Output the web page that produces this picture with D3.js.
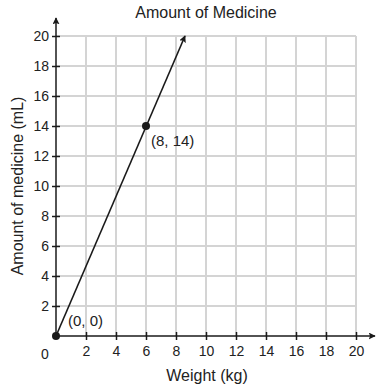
<!DOCTYPE html>
<html>
<head>
<meta charset="utf-8">
<script src="https://cdn.jsdelivr.net/npm/d3@7"></script>
<style>
  body { margin: 0; background: #fff; }
  svg { font-family: "Liberation Sans", Arial, sans-serif; }
</style>
</head>
<body>
<svg id="svg" width="385" height="385"></svg>
<script>
// chart values
var title = "Amount of Medicine";
var xLabel = "Weight (kg)";
var yLabel = "Amount of medicine (mL)";
var xTicks = [0, 2, 4, 6, 8, 10, 12, 14, 16, 18, 20];
var yTicks = [2, 4, 6, 8, 10, 12, 14, 16, 18, 20];
var linePoints = [[0, 0], [8.6, 20]];   // ray as drawn, ends in an arrow
var dots = [[0, 0], [6, 14]];
var dotLabels = ["(0, 0)", "(8, 14)"];

var margin = {top: 36, right: 29, bottom: 49, left: 56};
var width = 385 - margin.left - margin.right;
var height = 385 - margin.top - margin.bottom;

var svg = d3.select("#svg");

var x = d3.scaleLinear().domain([0, 20]).range([0, width]);
var y = d3.scaleLinear().domain([0, 20]).range([height, 0]);

svg.append("defs").append("marker")
    .attr("id", "arrow")
    .attr("viewBox", "0 0 10 10")
    .attr("refX", 9).attr("refY", 5)
    .attr("markerWidth", 7).attr("markerHeight", 7)
    .attr("markerUnits", "userSpaceOnUse")
    .attr("orient", "auto")
  .append("path")
    .attr("d", "M0,0L10,5L0,10L2,5Z")
    .attr("fill", "#1a1a1a");

var g = svg.append("g")
    .attr("transform", "translate(" + margin.left + "," + margin.top + ")");

// grid
g.append("g").selectAll("line")
    .data(xTicks.slice(1))
  .enter().append("line")
    .attr("x1", d => x(d)).attr("x2", d => x(d))
    .attr("y1", 0).attr("y2", height)
    .attr("stroke", "#d4d4d4").attr("stroke-width", 2);

g.append("g").selectAll("line")
    .data(yTicks)
  .enter().append("line")
    .attr("x1", 0).attr("x2", width)
    .attr("y1", d => y(d)).attr("y2", d => y(d))
    .attr("stroke", "#d4d4d4").attr("stroke-width", 2);

// axes
var xAxis = g.append("g")
    .attr("transform", "translate(0," + height + ")")
    .call(d3.axisBottom(x).tickValues(xTicks.slice(1)).tickSize(4).tickFormat(d3.format("d")));
xAxis.select(".domain").remove();
xAxis.selectAll(".tick line").attr("y1", -4).attr("stroke", "#1a1a1a").attr("stroke-width", 1.5);
xAxis.selectAll(".tick text").attr("y", 10).attr("font-size", 14).attr("fill", "#222");

var yAxis = g.append("g")
    .call(d3.axisLeft(y).tickValues(yTicks).tickSize(4).tickFormat(d3.format("d")));
yAxis.select(".domain").remove();
yAxis.selectAll(".tick line").attr("x1", 4).attr("stroke", "#1a1a1a").attr("stroke-width", 1.5);
yAxis.selectAll(".tick text").attr("x", -7).attr("font-size", 14).attr("fill", "#222");

// lone zero label under origin
g.append("text")
    .attr("x", -11).attr("y", height + 23)
    .attr("text-anchor", "middle")
    .attr("font-size", 14).attr("fill", "#222")
    .text("0");

// axis lines with arrows
g.append("line")
    .attr("x1", 0).attr("y1", height)
    .attr("x2", width + 19).attr("y2", height)
    .attr("stroke", "#1a1a1a").attr("stroke-width", 1.5)
    .attr("marker-end", "url(#arrow)");
g.append("line")
    .attr("x1", 0).attr("y1", height)
    .attr("x2", 0).attr("y2", -18)
    .attr("stroke", "#1a1a1a").attr("stroke-width", 1.5)
    .attr("marker-end", "url(#arrow)");

// the ray
g.append("path")
    .datum(linePoints)
    .attr("d", d3.line().x(d => x(d[0])).y(d => y(d[1])))
    .attr("fill", "none")
    .attr("stroke", "#1a1a1a").attr("stroke-width", 1.6)
    .attr("marker-end", "url(#arrow)");

// dots and labels
g.selectAll(".dot")
    .data(dots)
  .enter().append("circle")
    .attr("class", "dot")
    .attr("cx", d => x(d[0])).attr("cy", d => y(d[1]))
    .attr("r", 4)
    .attr("fill", "#1a1a1a");

g.selectAll(".dot-label")
    .data(dots)
  .enter().append("text")
    .attr("class", "dot-label")
    .attr("x", d => x(d[0]) + (d[1] > 0 ? 5 : 12))
    .attr("y", d => d[1] > 0 ? y(d[1]) + 20 : y(d[1]) - 10)
    .attr("font-size", 15).attr("fill", "#222")
    .text((d, i) => dotLabels[i]);

// titles
svg.append("text")
    .attr("x", 206).attr("y", 18)
    .attr("text-anchor", "middle")
    .attr("font-size", 16).attr("fill", "#222")
    .text(title);

svg.append("text")
    .attr("x", 207).attr("y", 381)
    .attr("text-anchor", "middle")
    .attr("font-size", 16).attr("fill", "#222")
    .text(xLabel);

svg.append("text")
    .attr("transform", "translate(23," + (margin.top + height / 2) + ") rotate(-90)")
    .attr("text-anchor", "middle")
    .attr("font-size", 16).attr("fill", "#222")
    .text(yLabel);
</script>
</body>
</html>
